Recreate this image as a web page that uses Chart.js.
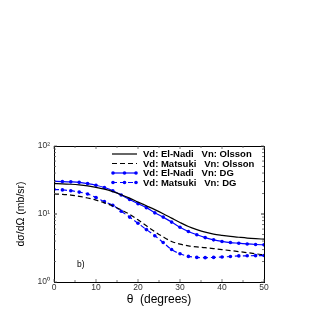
<!DOCTYPE html>
<html><head><meta charset="utf-8">
<script src="https://cdn.jsdelivr.net/npm/chart.js@4"></script>
<style>html,body{margin:0;padding:0;background:#fff}#wrap{width:319px;height:319px}</style>
</head><body><div id="wrap"><canvas id="c" width="319" height="319"></canvas></div>
<script>
const theta = [0,2,4,6,8,10,12,14,16,18,20,22,24,26,28,30,32,34,36,38,40,42,44,46,48,50];
const elNadiOlsson = [27.9,27.8,27.4,26.8,25.9,24.7,23.2,21.3,19.2,17.1,15.0,13.2,11.6,10.1,8.7,7.5,6.55,5.9,5.4,5.06,4.85,4.68,4.55,4.43,4.34,4.27];
const matsukiOlsson = [19.7,19.5,19.0,18.2,17.2,16.0,14.6,13.1,11.5,9.9,8.2,6.7,5.5,4.6,3.95,3.6,3.4,3.28,3.2,3.1,3.0,2.9,2.8,2.7,2.6,2.5];
const elNadiDG = [30.2,30.0,29.7,29.2,28.0,26.5,24.5,22.0,19.0,16.3,14.2,12.4,10.4,9.0,7.6,6.4,5.52,4.95,4.5,4.17,3.95,3.8,3.72,3.63,3.56,3.52];
const matsukiDG = [23.0,22.6,22.0,21.0,19.7,17.5,15.2,13.4,11.0,9.0,7.3,5.9,4.8,3.8,3.0,2.6,2.38,2.3,2.28,2.3,2.33,2.37,2.42,2.43,2.44,2.45];
const labels = ['Vd: El-Nadi   Vn: Olsson','Vd: Matsuki   Vn: Olsson','Vd: El-Nadi   Vn: DG','Vd: Matsuki   Vn: DG'];
const xTicks = [0,10,20,30,40,50];
const yTicks = [1,10,100];
const yTickLabels = ['10\u2070','10\u00B9','10\u00B2'];
const panelLabel = 'b)';

const BLUE = '#0000ff';
const pts = arr => theta.map((t,i)=>({x:t,y:arr[i]}));
const datasets = [
  {label:labels[0], data:pts(elNadiOlsson), borderColor:'#000', borderWidth:1.2, pointRadius:0, borderDash:[]},
  {label:labels[1], data:pts(matsukiOlsson), borderColor:'#000', borderWidth:1.2, pointRadius:0, borderDash:[5,3]},
  {label:labels[2], data:pts(elNadiDG), borderColor:BLUE, backgroundColor:BLUE, borderWidth:1.2, pointRadius:1.8, pointBorderWidth:0, borderDash:[]},
  {label:labels[3], data:pts(matsukiDG), borderColor:BLUE, backgroundColor:BLUE, borderWidth:1.2, pointRadius:1.8, pointBorderWidth:0, borderDash:[5,3]}
].map(d=>Object.assign({fill:false, cubicInterpolationMode:'monotone'}, d));

const decor = {
  id:'decor',
  afterDatasetsDraw(chart){
    const ctx = chart.ctx, a = chart.chartArea, xs = chart.scales.x, ys = chart.scales.y;
    ctx.save();
    ctx.strokeStyle = '#000'; ctx.lineWidth = 1;
    ctx.strokeRect(Math.round(a.left)+0.5, Math.round(a.top)+0.5, Math.round(a.right-a.left), Math.round(a.bottom-a.top));
    ctx.strokeStyle = '#555'; ctx.lineWidth = 0.8;
    for (let v=0; v<=50; v+=5){
      const px = xs.getPixelForValue(v), L = (v%10===0)?3:2;
      ctx.beginPath(); ctx.moveTo(px,a.bottom); ctx.lineTo(px,a.bottom-L); ctx.moveTo(px,a.top); ctx.lineTo(px,a.top+L); ctx.stroke();
    }
    for (let d of [1,10]) for (let m=1;m<=10;m++){
      const v=d*m, py=ys.getPixelForValue(v), L=(m===1||m===10)?3:2;
      ctx.beginPath(); ctx.moveTo(a.left,py); ctx.lineTo(a.left+L,py); ctx.moveTo(a.right,py); ctx.lineTo(a.right-L,py); ctx.stroke();
    }
    const rowH = 9.5, y0 = a.top + 8, lx0 = a.left + 58, lx1 = a.left + 83, tx = a.left + 89;
    ctx.font = 'bold 9.5px "Liberation Sans", Arial, sans-serif';
    ctx.textBaseline = 'middle'; ctx.textAlign = 'left';
    chart.data.datasets.forEach((ds,i)=>{
      const yy = y0 + i*rowH;
      ctx.strokeStyle = ds.borderColor; ctx.lineWidth = 1.2; ctx.setLineDash(ds.borderDash||[]);
      ctx.beginPath(); ctx.moveTo(lx0,yy); ctx.lineTo(lx1,yy); ctx.stroke();
      ctx.setLineDash([]);
      if (ds.pointRadius>0){
        ctx.fillStyle = ds.borderColor;
        for (const px of [lx0+1, (lx0+lx1)/2, lx1-1]){ctx.beginPath(); ctx.arc(px,yy,1.8,0,Math.PI*2); ctx.fill();}
      }
      ctx.fillStyle = '#000';
      ctx.fillText(ds.label, tx, yy+0.5);
    });
    ctx.font = '8.5px "Liberation Sans", Arial, sans-serif';
    ctx.fillStyle = '#000';
    ctx.fillText(panelLabel, a.left + 23, a.bottom - 17);
    ctx.restore();
  }
};

new Chart(document.getElementById('c'), {
  type:'line',
  data:{datasets},
  options:{
    responsive:false, animation:false, devicePixelRatio:1,
    layout:{padding:{top:146, right:55, left:15, bottom:12}},
    plugins:{legend:{display:false}, tooltip:{enabled:false}},
    elements:{line:{tension:0}},
    scales:{
      x:{type:'linear', min:0, max:50,
        afterBuildTicks:s=>{s.ticks = xTicks.map(v=>({value:v}));},
        ticks:{color:'#333', font:{size:8.5, family:'"Liberation Sans", Arial, sans-serif'}, padding:1, maxRotation:0},
        grid:{display:false, drawTicks:false}, border:{display:false},
        title:{display:true, text:'\u03B8  (degrees)', color:'#000', font:{size:12, family:'"Liberation Sans", Arial, sans-serif'}, padding:{top:0,bottom:0}},
        afterFit:s=>{s.height = 319-282-12;}
      },
      y:{type:'logarithmic', min:1, max:100,
        afterBuildTicks:s=>{s.ticks = yTicks.map(v=>({value:v}));},
        ticks:{color:'#333', font:{size:8.5, family:'"Liberation Sans", Arial, sans-serif'}, padding:4,
          callback:(v)=>{const i=yTicks.indexOf(v); return i>=0?yTickLabels[i]:'';}},
        grid:{display:false, drawTicks:false}, border:{display:false},
        title:{display:true, text:'d\u03C3/d\u03A9 (mb/sr)', color:'#000', font:{size:10.5, family:'"Liberation Sans", Arial, sans-serif'}, padding:{top:0,bottom:0}},
        afterFit:s=>{s.width = 54-15;}
      }
    }
  },
  plugins:[decor]
});
</script></body></html>
